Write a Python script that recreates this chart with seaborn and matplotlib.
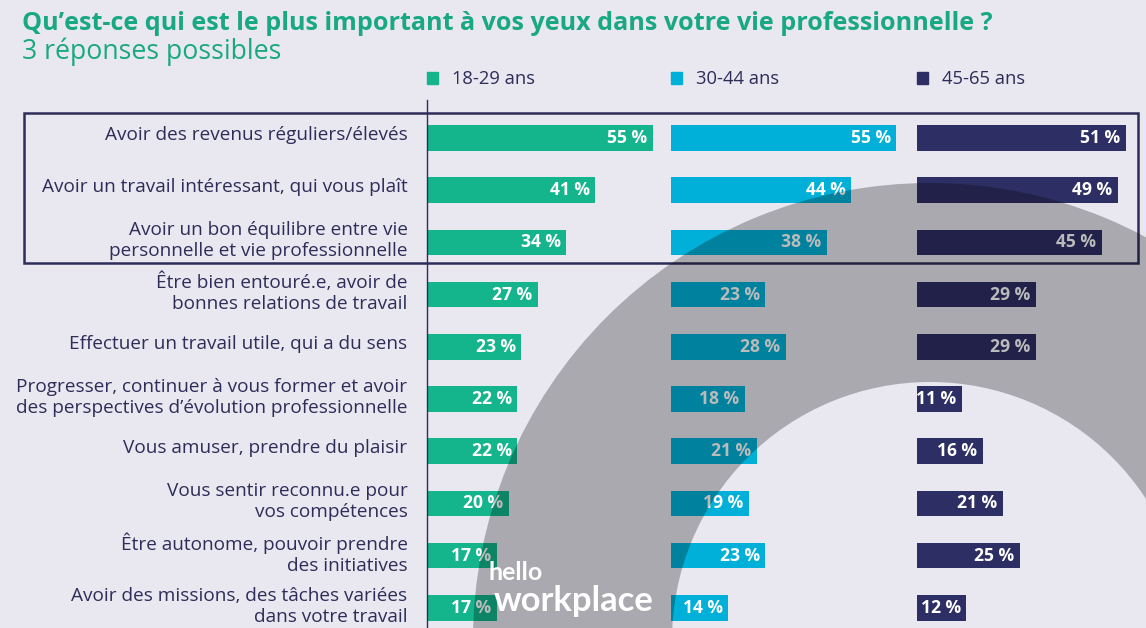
import matplotlib
matplotlib.use("Agg")
import matplotlib.pyplot as plt
import matplotlib.transforms as mtransforms
import seaborn as sns
import pandas as pd
from matplotlib.patches import Wedge, Rectangle, Patch

categories = [
    "Avoir des revenus réguliers/élevés",
    "Avoir un travail intéressant, qui vous plaît",
    "Avoir un bon équilibre entre vie\npersonnelle et vie professionnelle",
    "Être bien entouré.e, avoir de\nbonnes relations de travail",
    "Effectuer un travail utile, qui a du sens",
    "Progresser, continuer à vous former et avoir\ndes perspectives d’évolution professionnelle",
    "Vous amuser, prendre du plaisir",
    "Vous sentir reconnu.e pour\nvos compétences",
    "Être autonome, pouvoir prendre\ndes initiatives",
    "Avoir des missions, des tâches variées\ndans votre travail",
]
groups = ["18-29 ans", "30-44 ans", "45-65 ans"]
v_18_29 = [55, 41, 34, 27, 23, 22, 22, 20, 17, 17]
v_30_44 = [55, 44, 38, 23, 28, 18, 21, 19, 23, 14]
v_45_65 = [51, 49, 45, 29, 29, 11, 16, 21, 25, 12]

title = "Qu’est-ce qui est le plus important à vos yeux dans votre vie professionnelle ?"
subtitle = "3 réponses possibles"

colors = ["#14b48c", "#00b0d8", "#2d2e64"]
bg = "#e9e7f0"
navy = "#2d2d58"
green_title = "#19a884"
FONT = ["Open Sans", "DejaVu Sans"]

sns.set_theme(style="white")
plt.rcParams["font.family"] = FONT

W, H = 1146, 628
fig = plt.figure(figsize=(W / 100, H / 100), dpi=100, facecolor=bg)
renderer = fig.canvas.get_renderer()


def fit(txt, target_px):
    w = txt.get_window_extent(renderer).width
    txt.set_fontsize(txt.get_fontsize() * target_px / w)


def fax(x0, y0, w, h):
    return [x0 / W, 1 - (y0 + h) / H, w / W, h / H]


# font sizes fitted to reference widths
probe = fig.text(0, 0, categories[0], fontsize=12)
fit(probe, 300)
label_fs = probe.get_fontsize()
probe.remove()
probe = fig.text(0, 0, "55 %", fontsize=12, fontweight="bold")
fit(probe, 40)
value_fs = probe.get_fontsize()
probe.remove()
probe = fig.text(0, 0, groups[0], fontsize=12)
fit(probe, 83)
legend_fs = probe.get_fontsize()
probe.remove()

ax_top, ax_bot = 100, 628
lefts = [427, 671, 917]
pw = 229
ppu = 4.1
row_px = 52.2
first_row = 138

series = [v_18_29, v_30_44, v_45_65]
for k in range(3):
    ax = fig.add_axes(fax(lefts[k], ax_top, pw, ax_bot - ax_top))
    ax.set_facecolor("none")
    df = pd.DataFrame({"cat": categories, "val": series[k]})
    sns.barplot(data=df, x="val", y="cat", orient="h", color=colors[k],
                width=0.49, saturation=1, linewidth=0, ax=ax)
    ax.set_xlim(0, pw / ppu)
    top = -(first_row - ax_top) / row_px
    ax.set_ylim(top + (ax_bot - ax_top) / row_px, top)
    ax.set_xlabel("")
    ax.set_ylabel("")
    ax.set_xticks([])
    for s in ["top", "right", "bottom"]:
        ax.spines[s].set_visible(False)
    if k == 0:
        ax.spines["left"].set_visible(True)
        ax.spines["left"].set_color(navy)
        ax.spines["left"].set_linewidth(1.0)
        ax.tick_params(axis="y", length=0, pad=14, labelsize=label_fs, labelcolor=navy)
        shift = mtransforms.ScaledTranslation(0, 5 / 100, fig.dpi_scale_trans)
        for lbl in ax.get_yticklabels():
            lbl.set_linespacing(1.22)
            lbl.set_transform(lbl.get_transform() + shift)
    else:
        ax.spines["left"].set_visible(False)
        ax.set_yticks([])
    for c in ax.containers:
        ax.bar_label(c, labels=[f"{v} %" for v in series[k]], padding=-4,
                     color="white", fontsize=value_fs, fontweight="bold")
        for t in ax.texts:
            t.set_ha("right")
    leg = ax.legend(handles=[Patch(color=colors[k])], labels=[groups[k]],
                    loc="lower left", bbox_to_anchor=(-0.002, 1.022),
                    frameon=False, borderaxespad=0, borderpad=0,
                    handlelength=0.62, handleheight=0.62, handletextpad=0.75,
                    fontsize=legend_fs)
    for t in leg.get_texts():
        t.set_color(navy)

# overlay in pixel coordinates
ov = fig.add_axes([0, 0, 1, 1], zorder=10)
ov.set_xlim(0, W)
ov.set_ylim(H, 0)
ov.axis("off")
ov.patch.set_visible(False)
ov.add_patch(Rectangle((24, 113), 1114, 150, fill=False, ec=navy, lw=1.8))
ov.add_patch(Wedge((930, 640), 457, 0, 360, width=199, fc="black", alpha=0.265, lw=0))
ov.text(489, 573, "hello", color="white", fontsize=18, fontweight="bold", va="center", ha="left",
        family=["Lato", "DejaVu Sans"])
lw_txt = ov.text(494, 601, "workplace", color="white", fontsize=22, fontweight="bold", va="center",
                 ha="left", family=["Lato", "DejaVu Sans"])
fit(lw_txt, 160)

t1 = fig.text(22 / W, 1 - 23 / H, title, color=green_title, fontsize=16, fontweight="bold",
              va="center", ha="left")
fit(t1, 973)
t2 = fig.text(22 / W, 1 - 52 / H, subtitle, color=green_title, fontsize=16, va="center", ha="left")
fit(t2, 259)

fig.savefig("out.png", dpi=100, facecolor=bg)
